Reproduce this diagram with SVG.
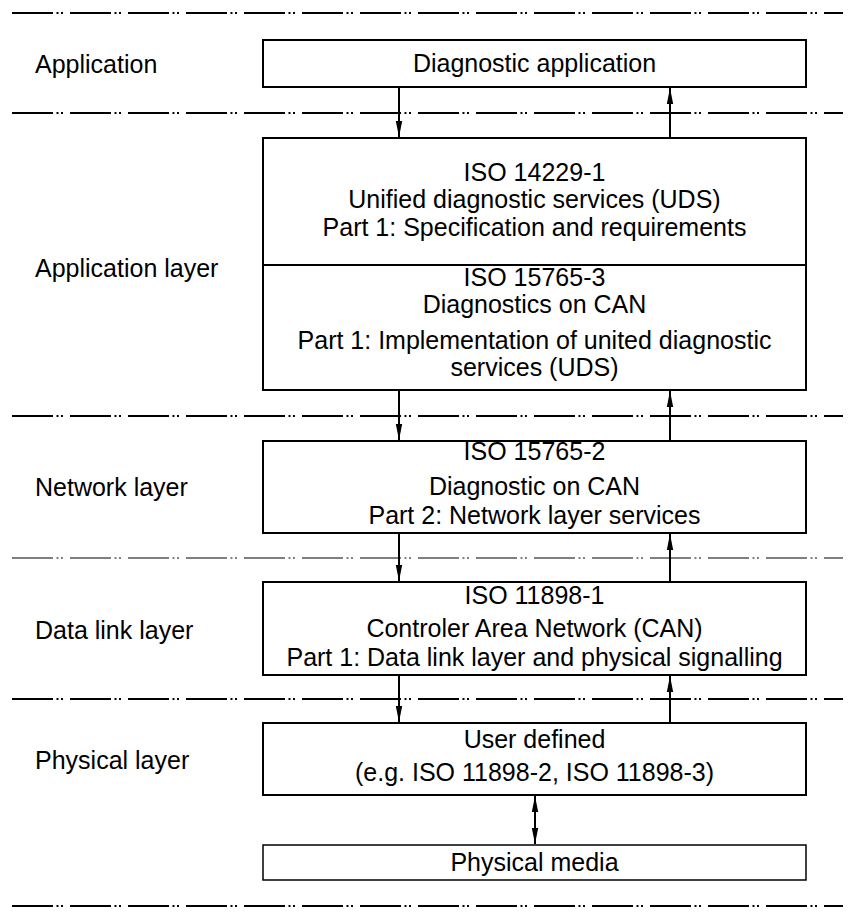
<svg xmlns="http://www.w3.org/2000/svg" width="855" height="918" viewBox="0 0 855 918">
<defs>
<style>
.sep{stroke:#000;stroke-width:2;fill:none;stroke-dasharray:41 3.5 2 2.5 2 7}
.sep-thin{stroke:#000;stroke-width:1.2;fill:none;stroke-dasharray:41 3.5 2 2.5 2 7}
.box{fill:#fff;stroke:#000;stroke-width:2}
.lbl{font-family:"Liberation Sans",Arial,sans-serif;font-size:25px;fill:#000}
.ctr{text-anchor:middle}
.conn{stroke:#000;stroke-width:2;fill:none}
</style>
<marker id="ah" markerWidth="17" markerHeight="8" refX="16" refY="4" orient="auto-start-reverse" markerUnits="userSpaceOnUse">
<path d="M0,0.8 L16,4 L0,7.2 Z" fill="#000"/>
</marker>
</defs>
<rect width="855" height="918" fill="#fff"/>
<g id="separators">
<line class="sep" x1="12" y1="13" x2="843" y2="13"/>
<line class="sep" x1="12" y1="113" x2="843" y2="113"/>
<line class="sep" x1="12" y1="416" x2="843" y2="416"/>
<line class="sep-thin" x1="12" y1="558" x2="843" y2="558"/>
<line class="sep" x1="12" y1="699" x2="843" y2="699"/>
<line class="sep" x1="12" y1="906" x2="843" y2="906"/>
</g>
<g id="layer-labels">
<text class="lbl" x="35" y="73">Application</text>
<text class="lbl" x="35" y="277">Application layer</text>
<text class="lbl" x="35" y="496">Network layer</text>
<text class="lbl" x="35" y="639">Data link layer</text>
<text class="lbl" x="35" y="769">Physical layer</text>
</g>
<g id="connectors">
<line class="conn" x1="399" y1="88" x2="399" y2="137" marker-end="url(#ah)"/>
<line class="conn" x1="670" y1="137" x2="670" y2="88" marker-end="url(#ah)"/>
<line class="conn" x1="399" y1="391" x2="399" y2="440" marker-end="url(#ah)"/>
<line class="conn" x1="670" y1="440" x2="670" y2="391" marker-end="url(#ah)"/>
<line class="conn" x1="399" y1="534" x2="399" y2="581" marker-end="url(#ah)"/>
<line class="conn" x1="670" y1="581" x2="670" y2="534" marker-end="url(#ah)"/>
<line class="conn" x1="399" y1="676" x2="399" y2="722" marker-end="url(#ah)"/>
<line class="conn" x1="670" y1="722" x2="670" y2="676" marker-end="url(#ah)"/>
<line class="conn" x1="535" y1="796" x2="535" y2="844" marker-start="url(#ah)" marker-end="url(#ah)"/>
</g>
<g id="node-diag-app">
<rect class="box" x="263" y="40" width="543" height="47"/>
<text class="lbl ctr" x="534.5" y="72">Diagnostic application</text>
</g>
<g id="node-iso14229">
<rect class="box" x="263" y="138" width="543" height="127"/>
<text class="lbl ctr" x="534.5" y="181">ISO 14229-1</text>
<text class="lbl ctr" x="534.5" y="208">Unified diagnostic services (UDS)</text>
<text class="lbl ctr" x="534.5" y="236">Part 1: Specification and requirements</text>
</g>
<g id="node-iso15765-3">
<rect class="box" x="263" y="265" width="543" height="125"/>
<text class="lbl ctr" x="534.5" y="286">ISO 15765-3</text>
<text class="lbl ctr" x="534.5" y="313">Diagnostics on CAN</text>
<text class="lbl ctr" x="534.5" y="349">Part 1: Implementation of united diagnostic</text>
<text class="lbl ctr" x="534.5" y="376">services (UDS)</text>
</g>
<g id="node-iso15765-2">
<rect class="box" x="263" y="441" width="543" height="92"/>
<text class="lbl ctr" x="534.5" y="460">ISO 15765-2</text>
<text class="lbl ctr" x="534.5" y="495">Diagnostic on CAN</text>
<text class="lbl ctr" x="534.5" y="524">Part 2: Network layer services</text>
</g>
<g id="node-iso11898-1">
<rect class="box" x="263" y="582" width="543" height="93"/>
<text class="lbl ctr" x="534.5" y="604">ISO 11898-1</text>
<text class="lbl ctr" x="534.5" y="637">Controler Area Network (CAN)</text>
<text class="lbl ctr" x="534.5" y="666">Part 1: Data link layer and physical signalling</text>
</g>
<g id="node-user-defined">
<rect class="box" x="263" y="723" width="543" height="72"/>
<text class="lbl ctr" x="534.5" y="748">User defined</text>
<text class="lbl ctr" x="534.5" y="781">(e.g. ISO 11898-2, ISO 11898-3)</text>
</g>
<g id="node-physical-media">
<rect class="box" x="263" y="845" width="543" height="35" style="stroke-width:1.5"/>
<text class="lbl ctr" x="534.5" y="871">Physical media</text>
</g>
</svg>
